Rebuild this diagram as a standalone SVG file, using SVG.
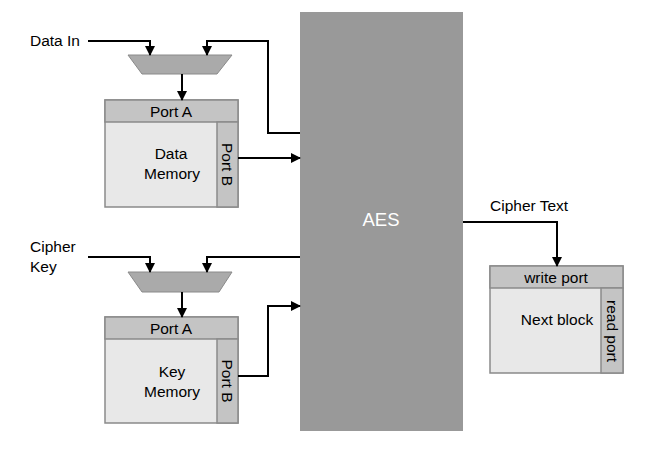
<svg xmlns="http://www.w3.org/2000/svg" width="646" height="453" viewBox="0 0 646 453">
<defs>
<marker id="ah" markerWidth="10" markerHeight="10" refX="9" refY="5" orient="auto" markerUnits="userSpaceOnUse">
<path d="M0,0 L10,5 L0,10 Z" fill="#000"/>
</marker>
<style>
text{font-family:"Liberation Sans",Arial,sans-serif;font-size:15.5px;fill:#000}
.c{text-anchor:middle}
.hdr{fill:#c4c4c4;stroke:#8a8a8a;stroke-width:1.5}
.body{fill:#e8e8e8;stroke:#8a8a8a;stroke-width:1.5}
.mux{fill:#aaaaaa;stroke:#8a8a8a;stroke-width:1}
.w{stroke:#000;stroke-width:2;fill:none}
</style>
</defs>
<rect width="646" height="453" fill="#fff"/>
<g id="aes">
<rect x="300" y="12" width="163" height="419" fill="#999999"/>
<text x="381" y="226" class="c" style="fill:#fff;font-size:18.5px">AES</text>
</g>
<g id="mux-data">
<polygon class="mux" points="128,55 232,55 217,74 142,74"/>
</g>
<g id="data-memory">
<rect class="body" x="105" y="100" width="133" height="107"/>
<rect class="hdr" x="105" y="100" width="133" height="22"/>
<rect class="hdr" x="217" y="122" width="21" height="85"/>
<text x="171" y="117" class="c">Port A</text>
<text x="171" y="159" class="c">Data</text>
<text x="172" y="179" class="c">Memory</text>
<text class="c" transform="translate(222,164.5) rotate(90)">Port B</text>
</g>
<g id="mux-key">
<polygon class="mux" points="128,272 232,272 219,292 142,292"/>
</g>
<g id="key-memory">
<rect class="body" x="105" y="317" width="133" height="106"/>
<rect class="hdr" x="105" y="317" width="133" height="22"/>
<rect class="hdr" x="217" y="339" width="21" height="84"/>
<text x="171" y="334" class="c">Port A</text>
<text x="172" y="377" class="c">Key</text>
<text x="172" y="397" class="c">Memory</text>
<text class="c" transform="translate(222,381) rotate(90)">Port B</text>
</g>
<g id="next-block">
<rect class="body" x="490" y="266" width="133" height="107"/>
<rect class="hdr" x="490" y="266" width="133" height="22"/>
<rect class="hdr" x="601" y="288" width="22" height="85"/>
<text x="556" y="283" class="c">write port</text>
<text x="557" y="325" class="c">Next block</text>
<text class="c" transform="translate(606.5,331) rotate(90)">read port</text>
</g>
<g id="labels">
<text x="30" y="46">Data In</text>
<text x="30" y="252">Cipher</text>
<text x="30" y="272">Key</text>
<text x="490" y="211">Cipher Text</text>
</g>
<g id="connectors">
<polyline class="w" points="88,41 150,41 150,55" marker-end="url(#ah)"/>
<polyline class="w" points="300,133 268,133 268,41 207,41 207,55" marker-end="url(#ah)"/>
<polyline class="w" points="182,74 182,100" marker-end="url(#ah)"/>
<polyline class="w" points="238,158 300,158" marker-end="url(#ah)"/>
<polyline class="w" points="88,257 150,257 150,272" marker-end="url(#ah)"/>
<polyline class="w" points="300,257 207,257 207,272" marker-end="url(#ah)"/>
<polyline class="w" points="182,292 182,317" marker-end="url(#ah)"/>
<polyline class="w" points="238,376 268,376 268,306 300,306" marker-end="url(#ah)"/>
<polyline class="w" points="463,222 557,222 557,266" marker-end="url(#ah)"/>
</g>
</svg>
